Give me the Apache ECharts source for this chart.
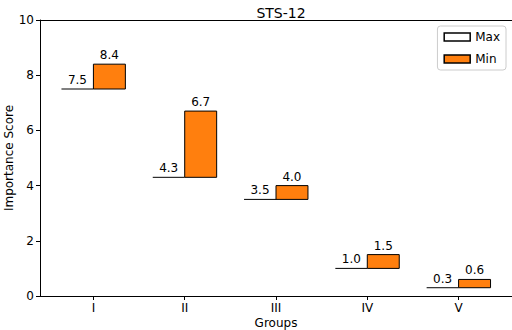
<!DOCTYPE html>
<html>
<head>
<meta charset="utf-8">
<script src="https://cdn.jsdelivr.net/npm/echarts@6/dist/echarts.min.js"></script>
<style>html,body{margin:0;padding:0;background:#fff}#c{width:512px;height:330px}</style>
</head>
<body>
<div id="c"></div>
<script>
const groups = ['I', 'II', 'III', 'IV', 'V'];
const maxValues = [7.5, 4.3, 3.5, 1.0, 0.3];
const minValues = [8.4, 6.7, 4.0, 1.5, 0.6];
const yTicks = [0, 2, 4, 6, 8, 10];
const groupPositions = [1, 2, 3, 4, 5];

const FONT = 'DejaVu Sans';
const BAR_W = 0.35;

const chart = echarts.init(document.getElementById('c'), null, {renderer: 'svg'});

function labelText(x, y, v) {
  return {
    type: 'text',
    style: {
      x: x, y: y - 3, text: v.toFixed(1), fill: '#000',
      font: '12px "' + FONT + '"', textAlign: 'center', textVerticalAlign: 'bottom'
    }
  };
}

chart.setOption({
  animation: false,
  textStyle: {fontFamily: FONT},
  title: {
    text: 'STS-12', left: 276, top: 1, textAlign: 'center',
    textStyle: {fontFamily: FONT, fontSize: 14, fontWeight: 'normal', color: '#000'}
  },
  legend: {
    orient: 'vertical', right: 6, top: 26,
    itemWidth: 26, itemHeight: 8, itemGap: 10,
    padding: [5, 6, 5, 6],
    borderColor: '#cccccc', borderWidth: 1, borderRadius: 3,
    textStyle: {fontFamily: FONT, fontSize: 12, color: '#000'},
    data: [
      {name: 'Max', icon: 'rect', itemStyle: {color: '#ffffff', borderColor: '#000', borderWidth: 1.5}},
      {name: 'Min', icon: 'rect', itemStyle: {color: '#ff7f0e', borderColor: '#000', borderWidth: 1.5}}
    ]
  },
  grid: {left: 40, right: 0, top: 20, bottom: 34, containLabel: false, outerBoundsMode: 'none'},
  xAxis: [{
    type: 'value', min: 0.415, max: 5.585,
    name: 'Groups', nameLocation: 'middle', nameGap: 20, nameMoveOverlap: false,
    nameTextStyle: {fontFamily: FONT, fontSize: 12, color: '#000', lineHeight: 13},
    axisLine: {show: true, onZero: false, lineStyle: {color: '#000', width: 1}},
    axisTick: {show: true, length: 4, customValues: groupPositions, lineStyle: {color: '#000'}},
    axisLabel: {
      show: true, customValues: groupPositions, margin: 6,
      fontFamily: FONT, fontSize: 12, color: '#000',
      formatter: function (v) { return groups[Math.round(v) - 1] || ''; }
    },
    splitLine: {show: false}
  }, {
    type: 'value', min: 0.415, max: 5.585, position: 'top',
    axisLine: {show: true, onZero: false, lineStyle: {color: '#000', width: 1}},
    axisTick: {show: false}, axisLabel: {show: false}, splitLine: {show: false}
  }],
  yAxis: {
    type: 'value', min: 0, max: 10, interval: 2,
    name: 'Importance Score', nameLocation: 'middle', nameGap: 25, nameRotate: 90, nameMoveOverlap: false,
    nameTextStyle: {fontFamily: FONT, fontSize: 12, color: '#000', lineHeight: 13},
    axisLine: {show: true, lineStyle: {color: '#000', width: 1}},
    axisTick: {show: true, length: 4, lineStyle: {color: '#000'}},
    axisLabel: {show: true, margin: 6, fontFamily: FONT, fontSize: 12, color: '#000',
      formatter: function (v) { return yTicks.indexOf(v) >= 0 ? String(v) : ''; }},
    splitLine: {show: false}
  },
  series: [{
    name: 'Max', type: 'custom',
    itemStyle: {color: '#ffffff', borderColor: '#000'},
    data: groupPositions.map((p, i) => [p, maxValues[i]]),
    renderItem: function (params, api) {
      const x = api.value(0), v = api.value(1);
      const p0 = api.coord([x - BAR_W, v]);
      const p1 = api.coord([x, v]);
      return {
        type: 'group',
        children: [
          {type: 'line', shape: {x1: p0[0], y1: p0[1], x2: p1[0], y2: p1[1]},
           style: {stroke: '#000', lineWidth: 1}},
          labelText((p0[0] + p1[0]) / 2, p0[1], v)
        ]
      };
    }
  }, {
    name: 'Min', type: 'custom',
    itemStyle: {color: '#ff7f0e', borderColor: '#000'},
    data: groupPositions.map((p, i) => [p, maxValues[i], minValues[i]]),
    renderItem: function (params, api) {
      const x = api.value(0), lo = api.value(1), hi = api.value(2);
      const p0 = api.coord([x, lo]);
      const p1 = api.coord([x + BAR_W, hi]);
      return {
        type: 'group',
        children: [
          {type: 'rect', shape: {x: p0[0], y: p1[1], width: p1[0] - p0[0], height: p0[1] - p1[1]},
           style: {fill: '#ff7f0e', stroke: '#000', lineWidth: 1}},
          labelText((p0[0] + p1[0]) / 2, p1[1], hi)
        ]
      };
    }
  }]
});
</script>
</body>
</html>
